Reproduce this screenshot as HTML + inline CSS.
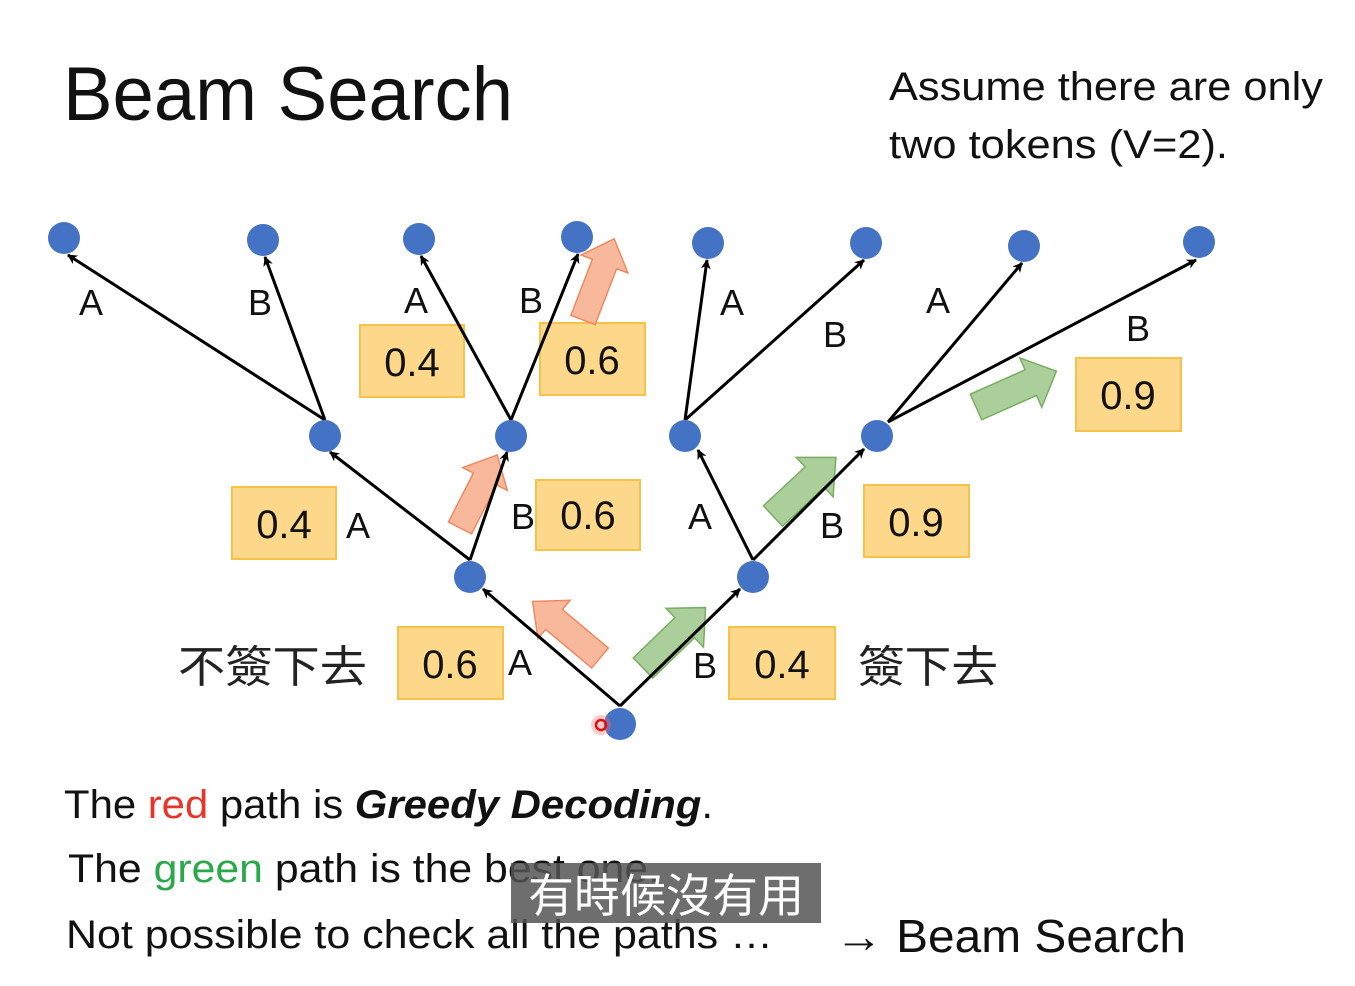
<!DOCTYPE html>
<html><head><meta charset="utf-8"><style>
html,body{margin:0;padding:0;background:#fff;}
svg{display:block;}
text{font-family:"Liberation Sans","Noto Sans CJK TC",sans-serif;}
</style></head><body>
<svg width="1355" height="986" viewBox="0 0 1355 986" xmlns="http://www.w3.org/2000/svg">
<defs>
<marker id="ah" markerWidth="10" markerHeight="10" refX="9" refY="5" orient="auto" markerUnits="userSpaceOnUse" viewBox="0 0 10 10">
<path d="M0,0 L10,5 L0,10 L3,5 z" fill="#000"/>
</marker>
</defs>
<text x="63" y="120" font-size="76" fill="#111" textLength="450" lengthAdjust="spacingAndGlyphs">Beam Search</text>
<text x="889" y="100" font-size="40" fill="#111" textLength="434" lengthAdjust="spacingAndGlyphs">Assume there are only</text>
<text x="889" y="158" font-size="40" fill="#111" textLength="339" lengthAdjust="spacingAndGlyphs">two tokens (V=2).</text>

<!-- boxes -->
<g fill="#fdd78a" stroke="#f7c24a" stroke-width="2">
<rect x="398" y="627" width="105" height="72"/>
<rect x="729" y="627" width="106" height="72"/>
<rect x="232" y="487" width="104" height="72"/>
<rect x="536" y="480" width="104" height="70"/>
<rect x="864" y="485" width="105" height="72"/>
<rect x="360" y="325" width="104" height="72"/>
<rect x="540" y="323" width="105" height="72"/>
<rect x="1076" y="358" width="105" height="73"/>
</g>
<g font-size="40" fill="#111" text-anchor="middle">
<text x="450" y="678">0.6</text>
<text x="782" y="678">0.4</text>
<text x="284" y="538">0.4</text>
<text x="588" y="529">0.6</text>
<text x="916" y="536">0.9</text>
<text x="412" y="376">0.4</text>
<text x="592" y="374">0.6</text>
<text x="1128" y="409">0.9</text>
</g>

<!-- fat arrows -->
<g fill-opacity="0.75">
<g fill="#f4a07a" stroke="#ee8a60" stroke-width="1.5">
<polygon transform="translate(600,658) rotate(220)" points="0,-13 60,-13 60,-25 88,0 60,25 60,13 0,13"/>
<polygon transform="translate(460,528) rotate(-63)" points="0,-13 55,-13 55,-25 82,0 55,25 55,13 0,13"/>
<polygon transform="translate(583,320) rotate(-69)" points="0,-13 60,-13 60,-25 87,0 60,25 60,13 0,13"/>
</g>
<g fill="#8fbf7a" stroke="#79ad62" stroke-width="1.5">
<polygon transform="translate(643,668) rotate(-44)" points="0,-14 58,-14 58,-27 87,0 58,27 58,14 0,14"/>
<polygon transform="translate(773,516) rotate(-43)" points="0,-14 57,-14 57,-27 86,0 57,27 57,14 0,14"/>
<polygon transform="translate(976,407) rotate(-24)" points="0,-14 60,-14 60,-27 88,0 60,27 60,14 0,14"/>
</g>
</g>

<!-- edges -->
<g stroke="#000" stroke-width="3" marker-end="url(#ah)" fill="none">
<line x1="620" y1="706" x2="483" y2="589"/>
<line x1="620" y1="706" x2="740" y2="589"/>
<line x1="470" y1="560" x2="330" y2="452"/>
<line x1="470" y1="560" x2="507" y2="452"/>
<line x1="753" y1="560" x2="698" y2="450"/>
<line x1="753" y1="560" x2="864" y2="449"/>
<line x1="325" y1="420" x2="68" y2="255"/>
<line x1="325" y1="420" x2="265" y2="257"/>
<line x1="511" y1="420" x2="421" y2="256"/>
<line x1="511" y1="420" x2="578" y2="254"/>
<line x1="685" y1="420" x2="707" y2="260"/>
<line x1="685" y1="420" x2="864" y2="260"/>
<line x1="888" y1="422" x2="1022" y2="263"/>
<line x1="888" y1="422" x2="1196" y2="260"/>
</g>

<!-- nodes -->
<g fill="#4472c4">
<circle cx="620" cy="724" r="16"/>
<circle cx="470" cy="577" r="16"/>
<circle cx="753" cy="577" r="16"/>
<circle cx="325" cy="436" r="16"/>
<circle cx="511" cy="436" r="16"/>
<circle cx="685" cy="436" r="16"/>
<circle cx="877" cy="436" r="16"/>
<circle cx="64" cy="238" r="16"/>
<circle cx="263" cy="240" r="16"/>
<circle cx="419" cy="239" r="16"/>
<circle cx="577" cy="237" r="16"/>
<circle cx="708" cy="243" r="16"/>
<circle cx="866" cy="243" r="16"/>
<circle cx="1024" cy="246" r="16"/>
<circle cx="1199" cy="242" r="16"/>
</g>
<circle cx="601" cy="725" r="10" fill="#ff6a6a" opacity="0.35"/>
<circle cx="601" cy="725" r="5" fill="none" stroke="#e01010" stroke-width="2.5"/>

<!-- letter labels -->
<g font-size="36" fill="#111" text-anchor="middle">
<text x="520" y="675">A</text>
<text x="705" y="678">B</text>
<text x="358" y="538">A</text>
<text x="523" y="529">B</text>
<text x="700" y="529">A</text>
<text x="832" y="538">B</text>
<text x="91" y="315">A</text>
<text x="260" y="315">B</text>
<text x="416" y="313">A</text>
<text x="531" y="313">B</text>
<text x="732" y="315">A</text>
<text x="835" y="347">B</text>
<text x="938" y="313">A</text>
<text x="1138" y="341">B</text>
</g>
<text x="178" y="682" font-size="44" fill="#222" textLength="189" lengthAdjust="spacingAndGlyphs">不簽下去</text>
<text x="858" y="682" font-size="44" fill="#222" textLength="140" lengthAdjust="spacingAndGlyphs">簽下去</text>

<!-- bottom text -->
<text x="64" y="818" font-size="40" fill="#111" textLength="649" lengthAdjust="spacingAndGlyphs">The <tspan fill="#e8352a">red</tspan> path is <tspan font-weight="bold" font-style="italic">Greedy Decoding</tspan>.</text>
<text x="68" y="882" font-size="40" fill="#111" textLength="592" lengthAdjust="spacingAndGlyphs">The <tspan fill="#2aa84a">green</tspan> path is the best one.</text>
<text x="66" y="948" font-size="40" fill="#111" textLength="707" lengthAdjust="spacingAndGlyphs">Not possible to check all the paths …</text>
<text x="835" y="952" font-size="46" fill="#111" textLength="351" lengthAdjust="spacingAndGlyphs">→ Beam Search</text>
<rect x="511" y="863" width="310" height="60" fill="#555" fill-opacity="0.85"/>
<text x="666" y="912" font-size="46" fill="#fff" text-anchor="middle">有時候沒有用</text>
</svg>
</body></html>
